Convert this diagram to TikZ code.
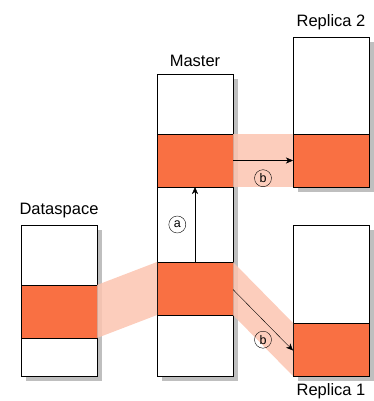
\documentclass[tikz,border=0pt]{standalone}
\usepackage{fontspec}
\setmainfont{Liberation Sans}
\usetikzlibrary{positioning,arrows.meta}
\definecolor{blockorange}{HTML}{F97043}
\definecolor{bandorange}{HTML}{FCC4B0}
\pgfdeclarelayer{background}
\pgfsetlayers{background,main}

\begin{document}
\begin{tikzpicture}[x=1pt,y=-1pt,-{Stealth[length=7pt,width=6pt,inset=2pt]},semithick,
box/.style ={rectangle ,draw ,fill=white ,minimum width =76pt ,inner sep=0pt ,outer sep=0pt},
part/.style ={rectangle ,draw ,fill=blockorange ,minimum width =76pt ,minimum height =53pt ,inner sep=0pt ,outer sep=0pt},
band/.style ={fill=bandorange ,opacity=0.85 ,draw=none},
shade/.style ={fill=black!25 ,draw=none},
title/.style ={font=\fontsize{16.5}{19}\selectfont},
tag/.style ={circle ,draw ,thin ,inner sep=0pt ,minimum size =17pt ,font=\fontsize{12.5}{14}\selectfont}]
\useasboundingbox (0,0) rectangle (374,401);
% boxes
\node[box ,minimum height =151pt] (D) at (59,300.5) {};
\node[box ,minimum height =302pt] (M) at (195,225) {};
\node[box ,minimum height =150pt] (R2) at (331,112) {};
\node[box ,minimum height =151pt] (R1) at (331,300.5) {};
% shadows
\begin{pgfonlayer}{background}
\foreach \b in {D,M,R2,R1}
  \fill[shade] ([shift={(5,5)}]\b.north west) rectangle ([shift={(5,5)}]\b.south east);
\end{pgfonlayer}
% orange parts
\node[part] (Dp) at (59,311.5) {};
\node[part] (Mup) at (195,160.5) {};
\node[part] (Mlo) at (195,288.5) {};
\node[part] (R2p) at (331,160.5) {};
\node[part] (R1p) at (331,349.5) {};
% bands
\fill[band] (Dp.north east) -- (Mlo.north west) -- (Mlo.south west) -- (Dp.south east) -- cycle;
\fill[band] (Mup.north east) -- (R2p.north west) -- (R2p.south west) -- (Mup.south east) -- cycle;
\fill[band] (Mlo.north east) -- (R1p.north west) -- (R1p.south west) -- (Mlo.south east) -- cycle;
% titles
\node[title ,above=4pt of D.north] {Dataspace};
\node[title ,above=4pt of M.north] {Master};
\node[title ,above=4pt of R2.north] {Replica 2};
\node[title ,below=4pt of R1.south] {Replica 1};
% arrows
\draw (Mlo.north) -- node[tag ,left=9pt] {a} (Mup.south);
\draw (Mup.east) -- node[tag ,below=9pt] {b} (R2p.west);
\draw ([yshift=-1pt]Mlo.east) -- node[tag ,below=11pt] {b} ([yshift=-1pt]R1p.west);
\end{tikzpicture}
\end{document}
